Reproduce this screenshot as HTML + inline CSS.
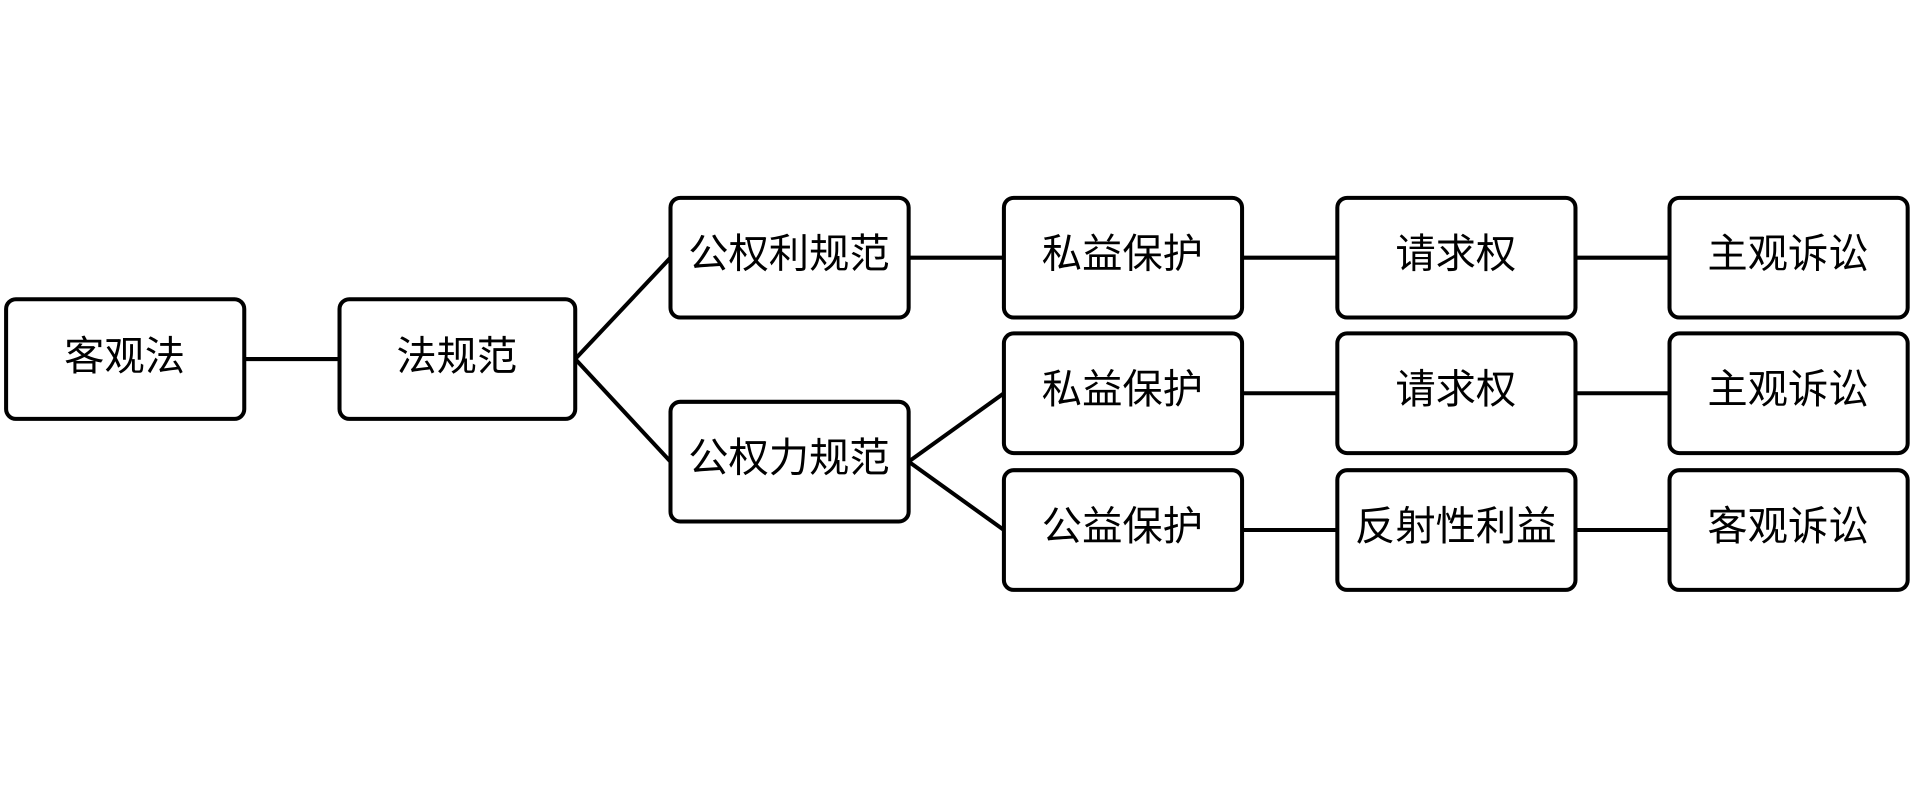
<!DOCTYPE html>
<html><head><meta charset="utf-8"><style>html,body{margin:0;padding:0;background:#fff;}svg{display:block}</style></head>
<body>
<svg width="1915" height="792" viewBox="0 0 1568 648.5" preserveAspectRatio="none" xmlns="http://www.w3.org/2000/svg">
<g stroke="#000" stroke-width="3.3" fill="none">
<line x1="200" y1="294" x2="278" y2="294"/>
<line x1="471" y1="294" x2="549" y2="211"/>
<line x1="471" y1="294" x2="549" y2="378"/>
<line x1="744" y1="211" x2="822" y2="211"/>
<line x1="744" y1="378" x2="822" y2="322"/>
<line x1="744" y1="378" x2="822" y2="434"/>
<line x1="1017" y1="211" x2="1095" y2="211"/>
<line x1="1290" y1="211" x2="1367" y2="211"/>
<line x1="1017" y1="322" x2="1095" y2="322"/>
<line x1="1290" y1="322" x2="1367" y2="322"/>
<line x1="1017" y1="434" x2="1095" y2="434"/>
<line x1="1290" y1="434" x2="1367" y2="434"/>
<rect x="5" y="245" width="195" height="98" rx="8"/>
<rect x="278" y="245" width="193" height="98" rx="8"/>
<rect x="549" y="162" width="195" height="98" rx="8"/>
<rect x="549" y="329" width="195" height="98" rx="8"/>
<rect x="822" y="162" width="195" height="98" rx="8"/>
<rect x="822" y="273" width="195" height="98" rx="8"/>
<rect x="822" y="385" width="195" height="98" rx="8"/>
<rect x="1095" y="162" width="195" height="98" rx="8"/>
<rect x="1095" y="273" width="195" height="98" rx="8"/>
<rect x="1095" y="385" width="195" height="98" rx="8"/>
<rect x="1367" y="162" width="195" height="98" rx="8"/>
<rect x="1367" y="273" width="195" height="98" rx="8"/>
<rect x="1367" y="385" width="195" height="98" rx="8"/>
</g>
<g font-family="'Liberation Sans','Noto Sans CJK SC',sans-serif" font-size="33" text-anchor="middle" dominant-baseline="central" fill="#000">
<text x="102" y="292">客观法</text>
<text x="374" y="292">法规范</text>
<text x="646" y="208">公权利规范</text>
<text x="646" y="375">公权力规范</text>
<text x="919" y="208">私益保护</text>
<text x="919" y="319">私益保护</text>
<text x="919" y="431">公益保护</text>
<text x="1192" y="208">请求权</text>
<text x="1192" y="319">请求权</text>
<text x="1192" y="431">反射性利益</text>
<text x="1464" y="208">主观诉讼</text>
<text x="1464" y="319">主观诉讼</text>
<text x="1464" y="431">客观诉讼</text>
</g>
</svg>
</body></html>
